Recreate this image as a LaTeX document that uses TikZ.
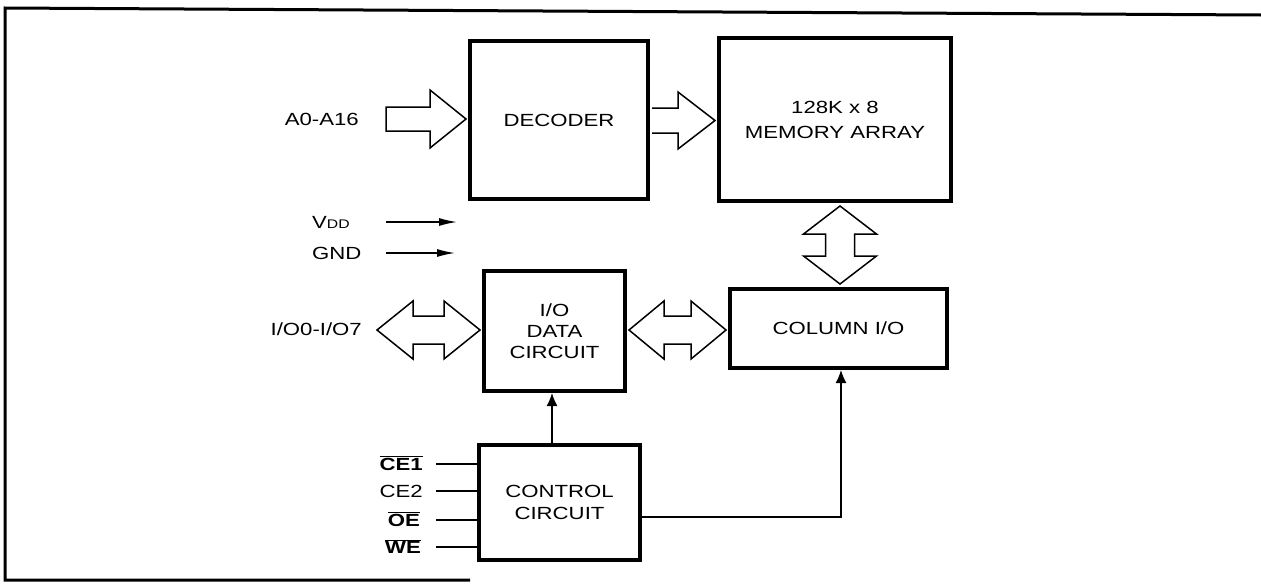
\documentclass[tikz,border=0pt]{standalone}
\usepackage{fontspec}
\setmainfont{Liberation Sans}[FakeStretch=1.26]
\usetikzlibrary{calc,arrows.meta}
\newcommand\lblfont{\fontsize{17.6}{22}\selectfont}
\newcommand\barsig[1]{$\overline{\mbox{\bfseries #1}}$}
\newcommand\hdarrow[5]{% left tip, right tip, head length, head half, shaft half
  \draw[fat] (#1) -- ($(#1)+(#3,-#4)$) -- ($(#1)+(#3,-#5)$) -- ($(#2)+(-#3,-#5)$) -- ($(#2)+(-#3,-#4)$) -- (#2)
    -- ($(#2)+(-#3,#4)$) -- ($(#2)+(-#3,#5)$) -- ($(#1)+(#3,#5)$) -- ($(#1)+(#3,#4)$) -- cycle;}
\newcommand\vdarrow[5]{% top tip, bottom tip, head length, head half, shaft half
  \draw[fat] (#1) -- ($(#1)+(#4,#3)$) -- ($(#1)+(#5,#3)$) -- ($(#2)+(#5,-#3)$) -- ($(#2)+(#4,-#3)$) -- (#2)
    -- ($(#2)+(-#4,-#3)$) -- ($(#2)+(-#5,-#3)$) -- ($(#1)+(-#5,#3)$) -- ($(#1)+(-#4,#3)$) -- cycle;}
\tikzset{
  blk/.style={draw, line width=4pt, rectangle, inner sep=0pt, align=center, font=\lblfont},
  lab/.style={inner sep=0pt, font=\lblfont, text height=12.6pt, text depth=0pt},
  wire/.style={line width=1.4pt},
  fat/.style={draw, line width=1.5pt, fill=white, line join=miter},
  pwr/.style={wire, -{Latex[length=18pt,width=8pt]}},
  ctl/.style={wire, -{Latex[length=13pt,width=11pt]}},
  frame/.style={line width=3pt}
}
\begin{document}
\begin{tikzpicture}[x=1pt,y=-1pt]
\useasboundingbox (0,0) rectangle (1261,584);
% frame
\draw[frame] (1261,15) -- (5,8) -- (5,580) -- (470,580);

% blocks
\node[blk, minimum width=178pt, minimum height=158pt] (dec) at (559,120) {DECODER};
\node[blk, minimum width=232pt, minimum height=163pt, font=\fontsize{17.6}{25}\selectfont] (mem) at (835,119.5) {128K x 8\\MEMORY ARRAY};
\node[blk, minimum width=141pt, minimum height=120pt, font=\fontsize{17.6}{21}\selectfont] (io) at (554.5,331) {I/O\\DATA\\CIRCUIT};
\node[blk, minimum width=217pt, minimum height=79pt] (col) at (838.5,328.5) {COLUMN I/O};
\node[blk, minimum width=161pt, minimum height=115pt] (ctl) at (559.5,502.5) {CONTROL\\CIRCUIT};

% labels
\node[lab, anchor=east] (addr) at (359,119) {A0-A16};
\node[lab, anchor=west] (vdd) at (312,222) {V{\fontsize{12.5}{12.5}\selectfont DD}};
\node[lab, anchor=west] (gnd) at (312,253) {GND};
\node[lab, anchor=east] (iol) at (362,329) {I/O0-I/O7};
\node[lab, anchor=east] (ce1) at (423,464) {\barsig{CE1}};
\node[lab, anchor=east] (ce2) at (423,491) {CE2};
\node[lab, anchor=east] (oe) at (420,520) {\barsig{OE}};
\node[lab, anchor=east] (we) at (421,547) {\barsig{WE}};

% address arrow
\coordinate (a0s) at (386,119);
\coordinate (a0t) at ($(dec.west)+(-2,-1)$);
\draw[fat] ($(a0s)+(0,-12)$) -- ($(a0t)+(-36,-12)$) -- ($(a0t)+(-36,-29)$) -- (a0t)
  -- ($(a0t)+(-36,29)$) -- ($(a0t)+(-36,12)$) -- ($(a0s)+(0,12)$) -- cycle;

% decoder -> memory
\coordinate (dms) at ($(dec.east)+(2,0.5)$);
\coordinate (dmt) at ($(mem.west|-dms)+(-2,0)$);
\draw[fat] ($(dms)+(0,-12.5)$) -- ($(dmt)+(-37,-12.5)$) -- ($(dmt)+(-37,-28.5)$) -- (dmt)
  -- ($(dmt)+(-37,28.5)$) -- ($(dmt)+(-37,12.5)$) -- ($(dms)+(0,12.5)$);

% power arrows
\coordinate (vdds) at (386,222);
\coordinate (vdde) at (457,222);
\coordinate (gnds) at (386,253);
\coordinate (gnde) at (455,253);
\draw[pwr] (vdds) -- (vdde);
\draw[pwr] (gnds) -- (gnde);

% I/O bus
\coordinate (iobl) at (377,330);
\coordinate (iobr) at ($(io.west|-iobl)+(-2,0)$);
\hdarrow{iobl}{iobr}{36}{29}{14}

% I/O data <-> column
\coordinate (icl) at ($(io.east)+(2,-1)$);
\coordinate (icr) at ($(col.west|-icl)+(-2,0)$);
\hdarrow{icl}{icr}{35}{29}{14}

% memory <-> column
\coordinate (mct) at ($(mem.south)+(5,3)$);
\coordinate (mcb) at ($(col.north-|mct)+(0,-3)$);
\vdarrow{mct}{mcb}{28}{36.5}{14.5}

% control signals
\draw[wire] (ce1.east) ++(13,0) -- (ctl.west|-ce1);
\draw[wire] (ce2.east) ++(13,0) -- (ctl.west|-ce2);
\draw[wire] (oe.east) ++(16,0) -- (ctl.west|-oe);
\draw[wire] (we.east) ++(15,0) -- (ctl.west|-we);

% control outputs
\coordinate (cx) at (552,0);
\draw[ctl] (ctl.north-|cx) -- (io.south-|cx);
\draw[ctl] ($(ctl.east)+(0,14.5)$) -| ($(col.south)+(2.5,0)$);
\end{tikzpicture}
\end{document}
